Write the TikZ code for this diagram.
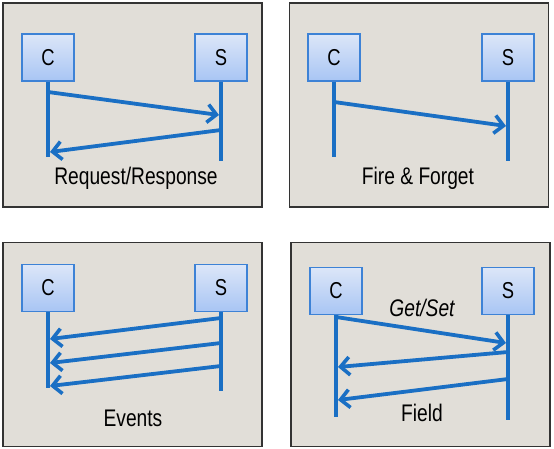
\documentclass[tikz,border=0pt]{standalone}
\usepackage{fontspec}
\newfontfamily\narrowfont{Liberation Sans}[FakeStretch=0.8]
\usepackage{tikz}
\usetikzlibrary{arrows.meta,positioning,calc}

\definecolor{panelgray}{HTML}{E1DED8}
\definecolor{lineblue}{HTML}{1A6FC4}
\definecolor{boxtop}{HTML}{DCE6F8}
\definecolor{boxbottom}{HTML}{A8C5F4}
\definecolor{boxedge}{HTML}{3D82D6}

\begin{document}
\begin{tikzpicture}[x=1pt,y=-1pt,
            panel/.style={rectangle, draw=black!80, line width=1.6pt,
                fill=panelgray, minimum width=259pt, minimum height=204pt},
            party/.style={rectangle, draw=boxedge, line width=1.4pt,
                top color=boxtop, bottom color=boxbottom,
                minimum width=52pt, minimum height=47pt,
                font=\narrowfont\fontsize{23}{25}\selectfont},
            lifeline/.style={draw=lineblue, line width=4.2pt},
            msg/.style={draw=lineblue, line width=3.8pt,
                -{Straight Barb[length=9pt,width=18pt,line width=3.6pt]}},
            caption/.style={font=\narrowfont\fontsize{24}{26}\selectfont}]

            \useasboundingbox (0,0) rectangle (554,449);

            % request / response
            \node [panel] (p1) at (132.5,105) {};
            \node [party] (c1) at (48,57.5) {C};
            \node [party] (s1) at (221,57.5) {S};
            \coordinate (c1end) at (48,157);
            \coordinate (s1end) at (221,161);
            \draw [lifeline] (c1.south) -- (c1end);
            \draw [lifeline] (s1.south) -- (s1end);
            \coordinate (c1a) at (48,92);
            \coordinate (s1a) at (219,115);
            \coordinate (s1b) at (221,130);
            \coordinate (c1b) at (50,152);
            \draw [msg] (c1a) -- (s1a);
            \draw [msg] (s1b) -- (c1b);
            \node [caption] (l1) at (136,178) {Request/Response};

            % fire and forget
            \node [panel] (p2) at (419,105) {};
            \node [party] (c2) at (334,57.5) {C};
            \node [party] (s2) at (508,57.5) {S};
            \coordinate (c2end) at (334,157);
            \coordinate (s2end) at (508,161);
            \draw [lifeline] (c2.south) -- (c2end);
            \draw [lifeline] (s2.south) -- (s2end);
            \coordinate (c2a) at (334,102);
            \coordinate (s2a) at (506,126);
            \draw [msg] (c2a) -- (s2a);
            \node [caption] (l2) at (418,178) {Fire \& Forget};

            % events
            \node [panel] (p3) at (132.5,344.5) {};
            \node [party] (c3) at (48,288) {C};
            \node [party] (s3) at (221,288) {S};
            \coordinate (c3end) at (48,388);
            \coordinate (s3end) at (221,391);
            \draw [lifeline] (c3.south) -- (c3end);
            \draw [lifeline] (s3.south) -- (s3end);
            \coordinate (s3a) at (221,318);
            \coordinate (c3a) at (50,339);
            \coordinate (s3b) at (221,343);
            \coordinate (c3b) at (50,363);
            \coordinate (s3c) at (221,366);
            \coordinate (c3c) at (50,386);
            \draw [msg] (s3a) -- (c3a);
            \draw [msg] (s3b) -- (c3b);
            \draw [msg] (s3c) -- (c3c);
            \node [caption] (l3) at (133,418) {Events};

            % field
            \node [panel] (p4) at (420.5,344.5) {};
            \node [party] (c4) at (336,291) {C};
            \node [party] (s4) at (508,291) {S};
            \coordinate (c4end) at (336,417);
            \coordinate (s4end) at (508,420);
            \draw [lifeline] (c4.south) -- (c4end);
            \draw [lifeline] (s4.south) -- (s4end);
            \coordinate (c4a) at (336,317);
            \coordinate (s4a) at (506,343);
            \coordinate (s4b) at (508,352);
            \coordinate (c4b) at (338,367);
            \coordinate (s4c) at (508,379);
            \coordinate (c4c) at (338,400);
            \draw [msg] (c4a) -- (s4a);
            \draw [msg] (s4b) -- (c4b);
            \draw [msg] (s4c) -- (c4c);
            \node [caption, font=\narrowfont\itshape\fontsize{24}{26}\selectfont] (g4) at (422,308) {Get/Set};
            \node [caption] (l4) at (422,413) {Field};

        \end{tikzpicture}
\end{document}
